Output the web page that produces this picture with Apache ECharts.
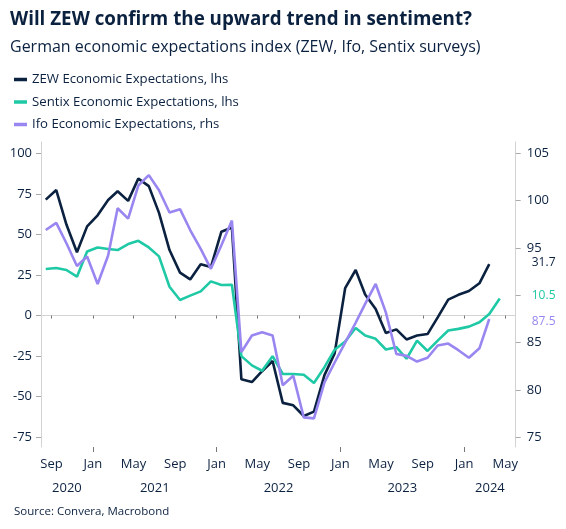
<!DOCTYPE html>
<html><head><meta charset="utf-8">
<script src="https://cdn.jsdelivr.net/npm/echarts@6/dist/echarts.min.js"></script>
<style>html,body{margin:0;padding:0;background:#fff}#c{width:566px;height:529px}</style>
</head><body><div id="c"></div>
<script>
// ---- data ----
const months = [
  '2020-08','2020-09','2020-10','2020-11','2020-12',
  '2021-01','2021-02','2021-03','2021-04','2021-05','2021-06','2021-07','2021-08','2021-09','2021-10','2021-11','2021-12',
  '2022-01','2022-02','2022-03','2022-04','2022-05','2022-06','2022-07','2022-08','2022-09','2022-10','2022-11','2022-12',
  '2023-01','2023-02','2023-03','2023-04','2023-05','2023-06','2023-07','2023-08','2023-09','2023-10','2023-11','2023-12',
  '2024-01','2024-02','2024-03','2024-04'
];
const zew = [
  71.5, 77.4, 56.1, 39.0, 55.0,
  61.8, 71.2, 76.6, 70.7, 84.4, 79.8, 63.3, 40.4, 26.5, 22.3, 31.7, 29.9,
  51.7, 54.3, -39.3, -41.0, -34.3, -28.0, -53.8, -55.3, -61.9, -59.2, -36.7, -23.3,
  16.9, 28.1, 13.0, 4.1, -10.7, -8.5, -14.7, -12.3, -11.4, -1.1, 9.8, 12.8,
  15.2, 19.9, 31.7
];
const sentix = [
  28.7, 29.3, 28.1, 24.0, 39.5,
  42.0, 41.0, 40.4, 44.1, 46.1, 42.0, 36.5, 17.8, 9.6, 12.3, 14.9, 21.1,
  18.9, 19.0, -25.0, -30.7, -34.0, -25.0, -36.0, -36.0, -36.5, -41.6, -31.8, -21.0,
  -16.0, -7.6, -12.3, -14.3, -20.9, -19.5, -26.6, -15.4, -21.8, -15.4, -9.2, -8.2,
  -6.8, -4.1, 1.0, 10.5
];
const ifo = [
  96.9, 97.65, 95.5, 93.1, 94.1,
  91.2, 94.2, 99.2, 98.1, 101.6, 102.7, 101.1, 98.75, 99.1, 96.9, 94.9, 92.8,
  95.3, 97.9, 84.0, 85.75, 86.1, 85.75, 80.5, 81.5, 77.1, 77.0, 80.8, 82.9,
  85.0, 87.1, 89.1, 91.2, 88.2, 83.8, 83.6, 83.0, 83.4, 84.7, 84.9, 84.2,
  83.4, 84.4, 87.5
];
const seriesNames = ['ZEW Economic Expectations, lhs','Sentix Economic Expectations, lhs','Ifo Economic Expectations, rhs'];
const monthTicks = ['2020-09','2021-01','2021-05','2021-09','2022-01','2022-05','2022-09','2023-01','2023-05','2023-09','2024-01','2024-05'];
const monthNames = ['Jan','Feb','Mar','Apr','May','Jun','Jul','Aug','Sep','Oct','Nov','Dec'];
const yearLabels = [2020, 2021, 2022, 2023, 2024];
const leftTicks = [-75, -50, -25, 0, 25, 50, 75, 100];
const rightTicks = [75, 80, 85, 90, 95, 100, 105];
const xRange = ['2020-08', '2024-06'];
const leftRange = [-81, 107];

// ---- helpers ----
const NAVY = '#0b2140', TEAL = '#1fc9a6', PURPLE = '#9a86f0', GREY = '#d3d3d3';
const FONT = 'Open Sans';
function ts(ym, day) { const [y, m] = ym.split('-').map(Number); return new Date(y, m - 1, day || 1).getTime(); }
const xMin = ts(xRange[0]), xMax = ts(xRange[1]);
// right axis aligned with left: left -75 <-> right 75, left 100 <-> right 105
const toRight = L => 75 + (L + 75) * 30 / 175;
const mkData = arr => arr.map((v, i) => [ts(months[i], 15), v]);
const monthTickTs = monthTicks.map(m => ts(m));
const janTicks = monthTicks.filter(m => m.endsWith('-01')).map(m => ts(m));
const yearCenters = yearLabels.map(y => {
  const a = Math.max(new Date(y, 0, 1).getTime(), xMin);
  const b = Math.min(new Date(y + 1, 0, 1).getTime(), xMax);
  return (a + b) / 2;
});

function endMark(value, color, dy, pad) {
  return {
    symbol: 'circle', symbolSize: 0.1, itemStyle: { color: 'rgba(0,0,0,0)' },
    data: [{ coord: [xMax, value] }],
    label: {
      show: true, position: 'right', distance: 7, offset: [0, dy],
      formatter: String(value), color: color, fontFamily: FONT, fontSize: 12,
      backgroundColor: '#fff', padding: pad || [2, 3, 2, 9]
    }
  };
}

const xBase = { type: 'value', min: xMin, max: xMax, position: 'bottom', scale: true, splitLine: { show: false } };

const chart = echarts.init(document.getElementById('c'), null, { renderer: 'canvas' });
chart.setOption({
  animation: false,
  backgroundColor: '#fff',
  textStyle: { fontFamily: FONT },
  title: [
    {
      text: 'Will ZEW confirm the upward trend in sentiment?',
      subtext: 'German economic expectations index (ZEW, Ifo, Sentix surveys)',
      left: 5, top: 5, itemGap: 10,
      textStyle: { fontFamily: FONT, fontSize: 18.8, fontWeight: 'bold', color: NAVY },
      subtextStyle: { fontFamily: FONT, fontSize: 16, color: NAVY }
    },
    {
      text: 'Source: Convera, Macrobond', left: 9, top: 501,
      textStyle: { fontFamily: FONT, fontSize: 11.5, fontWeight: 'normal', color: NAVY }
    }
  ],
  legend: {
    orient: 'vertical', left: 9, top: 68, itemGap: 9.5,
    itemWidth: 13, itemHeight: 3.5, icon: 'rect',
    data: seriesNames,
    textStyle: { fontFamily: FONT, fontSize: 13.2, color: NAVY }
  },
  grid: { left: 41, right: 50.3, top: 142, bottom: 82, containLabel: false, outerBoundsMode: 'none' },
  xAxis: [
    Object.assign({}, xBase, {
      axisLine: { show: true, lineStyle: { color: GREY, width: 1 } },
      axisTick: { show: true, customValues: monthTickTs, length: 3, lineStyle: { color: '#777' } },
      axisLabel: {
        customValues: monthTickTs, margin: 11,
        formatter: v => monthNames[new Date(v).getMonth()],
        color: NAVY, fontFamily: FONT, fontSize: 13
      }
    }),
    Object.assign({}, xBase, {
      axisLine: { show: false },
      axisTick: { show: true, customValues: janTicks, length: 5, lineStyle: { color: '#777' } },
      axisLabel: { show: false }
    }),
    Object.assign({}, xBase, {
      offset: 24,
      axisLine: { show: false }, axisTick: { show: false },
      axisLabel: {
        customValues: yearCenters, margin: 11,
        formatter: v => String(new Date(v).getFullYear()),
        color: NAVY, fontFamily: FONT, fontSize: 13
      }
    })
  ],
  yAxis: [
    {
      type: 'value', position: 'left', min: leftRange[0], max: leftRange[1],
      axisLine: { show: true, lineStyle: { color: GREY } },
      splitLine: { show: false },
      axisTick: { show: true, customValues: leftTicks, length: 5, lineStyle: { color: '#aaa' } },
      axisLabel: { customValues: leftTicks, margin: 9, color: NAVY, fontFamily: FONT, fontSize: 13 }
    },
    {
      type: 'value', position: 'right', min: toRight(leftRange[0]), max: toRight(leftRange[1]),
      axisLine: { show: true, lineStyle: { color: GREY } },
      splitLine: { show: false },
      axisTick: { show: true, customValues: rightTicks, length: 5, lineStyle: { color: '#aaa' } },
      axisLabel: { customValues: rightTicks, margin: 11, color: NAVY, fontFamily: FONT, fontSize: 13 }
    }
  ],
  series: [
    {
      name: seriesNames[0], type: 'line', yAxisIndex: 0, data: mkData(zew),
      showSymbol: false, symbol: 'none', clip: false,
      lineStyle: { color: NAVY, width: 2.6 }, itemStyle: { color: NAVY },
      markPoint: endMark(zew[zew.length - 1], NAVY, -2, [6, 3, 2, 9])
    },
    {
      name: seriesNames[1], type: 'line', yAxisIndex: 0, data: mkData(sentix),
      showSymbol: false, symbol: 'none', clip: false,
      lineStyle: { color: TEAL, width: 2.6 }, itemStyle: { color: TEAL },
      markPoint: endMark(sentix[sentix.length - 1], TEAL, -3)
    },
    {
      name: seriesNames[2], type: 'line', yAxisIndex: 1, data: mkData(ifo),
      showSymbol: false, symbol: 'none', clip: false,
      lineStyle: { color: PURPLE, width: 2.6 }, itemStyle: { color: PURPLE },
      markPoint: endMark(ifo[ifo.length - 1], PURPLE, 2.5)
    }
  ]
});
</script>
</body></html>
